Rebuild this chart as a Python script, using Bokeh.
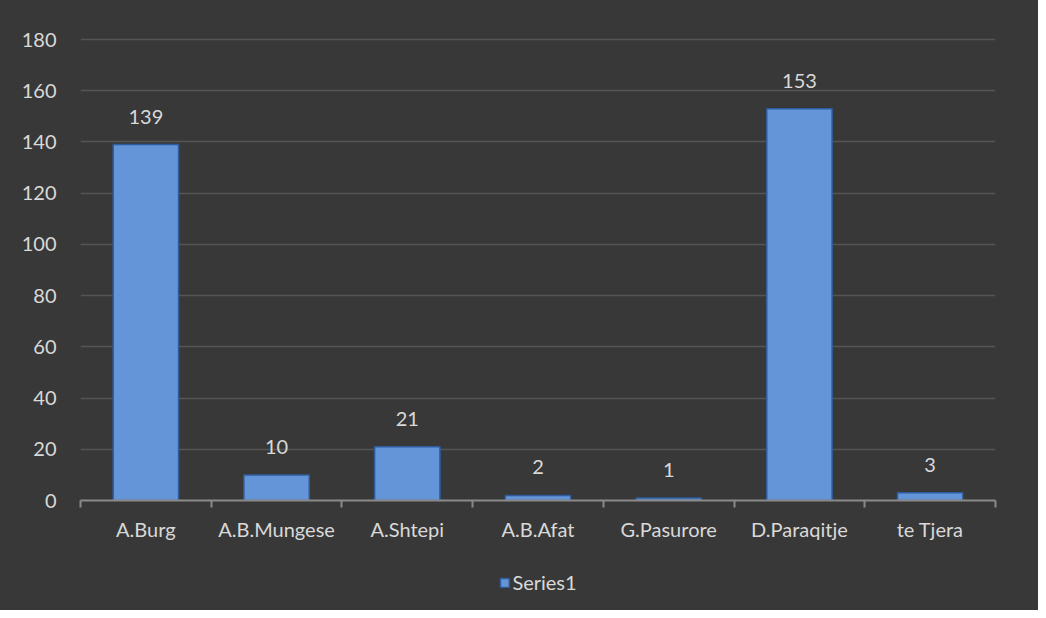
from bokeh.plotting import figure
from bokeh.layouts import column
from bokeh.models import ColumnDataSource, FixedTicker, Legend, LegendItem
from bokeh.core.properties import value
from bokeh.embed import file_html
from bokeh.resources import INLINE

categories = ["A.Burg", "A.B.Mungese", "A.Shtepi", "A.B.Afat", "G.Pasurore", "D.Paraqitje", "te Tjera"]
values = [139, 10, 21, 2, 1, 153, 3]
y_ticks = [0, 20, 40, 60, 80, 100, 120, 140, 160, 180]
series_name = "Series1"

xs = [i + 0.5 for i in range(len(categories))]
source = ColumnDataSource(dict(x=xs, top=values, label=[str(v) for v in values], cat=categories))

FONT = "Lato"
TXT = "#d9d9d9"
BG = "#383838"
FS = "20px"
BAR_FILL = "#6495d8"
BAR_LINE = "#2f5c9c"

p = figure(width=1038, height=562, output_backend="svg", toolbar_location=None,
           x_range=(0, len(categories)), y_range=(0, 180.8),
           min_border_left=80, min_border_right=43, min_border_top=37, min_border_bottom=62,
           styles={"background-color": BG})
p.background_fill_color = BG
p.border_fill_color = BG
p.outline_line_color = None

r = p.vbar(x="x", top="top", width=0.5, source=source,
           fill_color=BAR_FILL, line_color=BAR_LINE, line_width=1.5)

p.text(x="x", y="top", text="label", source=source, y_offset=-28,
       text_align="center", text_baseline="alphabetic", text_color=TXT,
       text_font=value(FONT), text_font_size=FS)

# x axis: labels at centers, tick marks at boundaries
p.xaxis.ticker = FixedTicker(ticks=xs, minor_ticks=list(range(len(categories) + 1)))
p.xaxis.major_label_overrides = {x: c for x, c in zip(xs, categories)}
p.xaxis.major_tick_out = 0
p.xaxis.major_tick_in = 0
p.xaxis.minor_tick_out = 7
p.xaxis.minor_tick_in = 0
p.xaxis.minor_tick_line_color = "#8a8a8a"
p.xaxis.minor_tick_line_width = 2
p.xaxis.axis_line_color = "#8a8a8a"
p.xaxis.axis_line_width = 2
p.xaxis.major_label_standoff = 9
p.xaxis.major_label_text_color = TXT
p.xaxis.major_label_text_font = FONT
p.xaxis.major_label_text_font_size = FS
p.xgrid.grid_line_color = None

p.yaxis.ticker = FixedTicker(ticks=y_ticks)
p.yaxis.axis_line_color = None
p.yaxis.major_tick_line_color = None
p.yaxis.minor_tick_line_color = None
p.yaxis.major_label_standoff = 18
p.yaxis.major_label_text_color = TXT
p.yaxis.major_label_text_font = FONT
p.yaxis.major_label_text_font_size = FS
p.ygrid.ticker = FixedTicker(ticks=y_ticks[1:])
p.ygrid.grid_line_color = "#555555"
p.ygrid.grid_line_width = 1.5

# legend strip below the chart
p2 = figure(width=1038, height=48, output_backend="svg", toolbar_location=None,
            x_range=(0, 1), y_range=(0, 1), min_border=0,
            styles={"background-color": BG})
p2.axis.visible = False
p2.grid.visible = False
p2.background_fill_color = BG
p2.border_fill_color = BG
p2.outline_line_color = None
r2 = p2.vbar(x="x", top="top", width=0.5, source=source,
             fill_color=BAR_FILL, line_color=BAR_LINE, line_width=1.5, visible=False)
legend = Legend(items=[LegendItem(label=series_name, renderers=[r2])],
                location="top_center", orientation="horizontal",
                background_fill_alpha=0, border_line_color=None, inactive_fill_alpha=0,
                label_text_color=TXT, label_text_font=FONT, label_text_font_size=FS,
                glyph_width=11, glyph_height=11, label_standoff=3, padding=0, margin=8)
p2.add_layout(legend, "center")

layout = column(p, p2, spacing=0, styles={"background-color": BG})
open("out.html", "w").write(file_html(layout, INLINE))
